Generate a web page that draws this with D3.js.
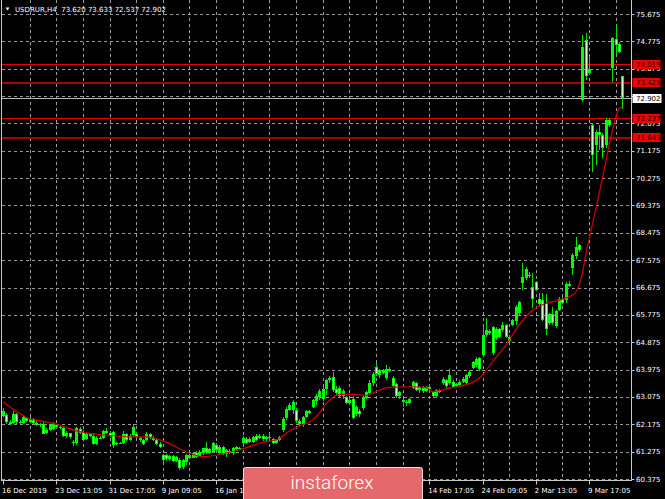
<!DOCTYPE html>
<html lang="en">
<head>
<meta charset="UTF-8">
<title>USDRUR,H4</title>
<style>
    html, body { margin: 0; padding: 0; background: #000; overflow: hidden; }
    svg { display: block; }
    text { font-family: "DejaVu Sans", sans-serif; font-size: 7px; fill: #fff; }
    .grid { stroke: #9a9a9a; stroke-width: 1; stroke-dasharray: 3,3; shape-rendering: crispEdges; }
    .frame { stroke: #c8c8c8; fill: none; shape-rendering: crispEdges; }
</style>
</head>
<body>
<svg width="665" height="499"></svg>
<script src="https://d3js.org/d3.v7.min.js"></script>
<script>
// bars, oldest first (H4)
const opens = [62.45,62.48,62.25,62.22,62.50,62.25,62.22,62.38,62.25,62.34,62.22,62.17,62.20,61.90,61.98,62.02,62.15,62.10,62.04,61.80,
    61.88,61.60,61.56,62.03,61.92,61.68,61.85,61.80,61.52,61.74,61.72,61.95,61.88,61.93,61.55,61.57,61.55,61.85,61.66,61.82,
    61.87,61.71,61.66,61.66,61.86,61.74,61.66,61.53,61.15,61.16,61.03,61.12,60.98,61.00,60.76,60.92,61.15,61.08,61.23,61.14,
    61.24,61.38,61.24,61.25,61.50,61.22,61.44,61.20,61.30,61.22,61.36,61.40,61.55,61.70,61.58,61.58,61.80,61.72,61.79,61.68,
    61.77,61.70,61.57,61.66,61.99,62.37,62.66,62.66,62.64,62.28,62.14,62.42,62.60,62.76,62.95,63.06,63.00,63.32,63.62,63.74,
    63.32,63.38,63.09,63.08,62.87,63.02,62.53,62.62,62.70,63.05,63.20,63.53,64.05,63.80,63.95,63.70,64.00,63.69,63.50,63.10,
    62.98,62.92,62.88,63.36,63.52,63.30,63.38,63.28,63.40,63.24,63.10,63.29,63.52,63.63,63.52,63.58,63.45,63.48,63.58,63.55,
    63.78,64.02,64.14,64.34,64.45,65.12,65.26,65.38,65.00,65.30,65.28,65.44,65.04,65.44,65.56,65.84,66.82,67.00,67.10,66.68,
    66.85,66.30,66.26,66.15,65.50,65.80,65.40,65.95,66.30,66.26,66.80,67.32,67.70,68.07,72.85,74.82,73.72,72.02,71.36,71.80,
    71.68,71.36,72.18,73.89,74.86,74.70,73.620];
const highs = [62.70,62.55,62.30,62.60,62.55,62.30,62.45,62.42,62.40,62.38,62.30,62.22,62.24,62.05,62.20,62.24,62.20,62.14,62.08,61.95,
    61.90,61.65,62.10,62.08,61.98,61.90,61.90,61.88,61.78,61.80,62.00,62.05,61.95,61.95,61.60,61.60,61.95,61.90,61.85,62.18,
    61.92,61.75,61.70,61.92,61.90,61.78,61.72,61.60,61.20,61.20,61.18,61.15,61.12,61.05,61.02,61.20,61.24,61.26,61.30,61.32,
    61.40,61.60,61.40,61.58,61.55,61.50,61.46,61.35,61.36,61.42,61.45,61.44,61.78,61.76,61.75,61.80,61.86,61.84,61.85,61.80,
    61.84,61.72,61.70,61.80,62.42,62.74,62.86,62.96,62.70,62.35,62.45,62.65,62.66,63.00,63.17,63.32,63.40,63.66,63.78,63.90,
    63.45,63.44,63.33,63.12,63.05,63.10,62.80,62.68,63.12,63.28,63.62,63.88,64.18,63.98,64.00,64.12,64.05,63.75,63.55,63.28,
    63.00,62.98,63.05,63.60,63.56,63.44,63.42,63.44,63.45,63.28,63.32,63.34,63.72,63.68,64.01,63.62,63.55,63.62,63.72,63.84,
    63.95,64.26,64.40,64.38,65.39,65.66,65.32,65.42,65.36,65.35,65.55,65.48,65.11,65.65,66.10,66.23,67.47,67.36,67.18,67.15,
    66.90,66.48,66.48,66.45,65.85,66.02,65.95,66.35,66.36,66.87,66.90,67.80,68.35,68.12,74.98,75.04,74.27,72.08,71.86,72.02,
    71.75,72.24,72.24,74.93,75.31,74.75,73.633];
const lows = [62.42,62.20,62.15,62.20,62.20,62.18,62.20,62.24,62.22,62.18,62.12,62.10,61.85,61.85,61.95,61.98,62.05,62.02,61.75,61.72,
    61.70,61.45,61.50,61.85,61.62,61.65,61.75,61.48,61.48,61.68,61.70,61.85,61.75,61.40,61.50,61.52,61.52,61.62,61.62,61.75,
    61.74,61.60,61.50,61.64,61.70,61.62,61.50,61.38,60.95,60.97,60.98,60.94,60.95,60.66,60.72,60.85,61.02,61.05,61.08,61.12,
    61.18,61.20,61.20,61.22,61.30,61.18,61.18,61.10,61.20,61.18,61.30,61.32,61.50,61.52,61.55,61.55,61.62,61.68,61.62,61.63,
    61.70,61.52,61.54,61.62,61.93,62.33,62.60,62.53,62.22,62.12,62.08,62.38,62.50,62.72,62.80,62.97,62.95,63.14,63.55,63.25,
    63.15,63.05,63.00,62.83,62.82,62.34,62.45,62.42,62.65,63.00,63.15,63.45,63.78,63.70,63.82,63.63,63.88,63.38,63.05,63.02,
    62.75,62.78,62.84,63.32,63.28,63.22,63.22,63.25,63.28,63.04,63.05,63.22,63.48,63.38,63.48,63.38,63.40,63.44,63.54,63.50,
    63.70,63.98,64.07,63.92,64.40,65.06,65.12,64.45,64.95,65.02,65.22,65.02,64.84,65.40,65.44,65.77,66.59,66.92,67.00,66.00,
    66.55,66.08,65.58,65.11,65.45,65.45,65.35,65.90,66.12,66.15,66.68,67.09,67.63,67.86,72.79,73.50,73.67,70.49,70.71,71.20,
    70.93,71.25,71.96,73.45,74.33,74.40,72.537];
const closes = [62.62,62.25,62.20,62.52,62.25,62.22,62.40,62.28,62.36,62.22,62.15,62.20,61.87,62.00,62.17,62.19,62.10,62.05,61.78,61.90,
    61.75,61.55,62.05,61.90,61.65,61.86,61.78,61.52,61.74,61.70,61.95,61.88,61.78,61.50,61.57,61.54,61.86,61.66,61.80,62.10,
    61.77,61.66,61.54,61.87,61.72,61.66,61.53,61.43,61.00,61.02,61.12,60.98,61.10,60.73,60.99,61.16,61.06,61.24,61.11,61.27,
    61.38,61.25,61.37,61.55,61.34,61.44,61.20,61.32,61.24,61.38,61.42,61.37,61.72,61.56,61.70,61.76,61.66,61.80,61.68,61.76,
    61.73,61.56,61.66,61.77,62.36,62.69,62.80,62.90,62.27,62.17,62.40,62.60,62.54,62.96,63.10,63.28,63.34,63.62,63.70,63.31,
    63.20,63.09,63.28,62.87,62.98,62.38,62.74,62.50,63.06,63.24,63.55,63.84,63.82,63.95,63.87,64.00,63.92,63.42,63.10,63.23,
    62.92,62.88,63.02,63.56,63.30,63.40,63.26,63.40,63.32,63.09,63.29,63.25,63.68,63.42,63.80,63.41,63.50,63.57,63.68,63.79,
    63.88,64.22,64.32,63.98,65.10,65.27,65.18,64.52,65.32,65.06,65.44,65.06,64.90,65.60,66.05,66.19,67.02,67.30,67.04,66.30,
    66.60,66.12,65.62,65.30,65.80,65.52,65.90,66.30,66.18,66.80,66.74,67.74,68.00,67.92,74.60,73.62,73.88,71.04,71.80,71.70,
    71.26,72.18,72.02,74.87,74.66,74.44,72.902];

// moving average, read at selected bars
const maIdx = [0,5,8,11,16,22,29,39,43,48,55,60,67,73,77,83,85,89,93,95,97,99,101,105,109,112,116,122,127,129,131,135,139,143,
    147,151,155,159,163,167,171,172,174,175,177,179,181,183,185,186];
const maVal = [62.92,62.53,62.35,62.29,62.18,61.96,61.84,61.76,61.76,61.63,61.27,61.11,61.23,61.40,61.55,61.71,61.88,62.12,62.32,62.55,
    62.85,63.05,63.16,63.16,63.12,63.25,63.39,63.41,63.39,63.25,63.28,63.39,63.47,63.69,64.23,64.78,65.44,65.93,66.15,66.26,
    66.43,66.52,67.15,67.75,68.75,69.75,70.80,71.85,72.55,72.62];

// 72.975 sits under the bid box in the picture, so it is not listed
const priceTicks = [60.375,61.275,62.175,63.075,63.975,64.875,65.775,66.675,67.575,68.475,69.375,70.275,71.175,72.075,
    73.875,74.775,75.675];
const gridPrices = [60.375,61.275,62.175,63.075,63.975,64.875,65.775,66.675,67.575,68.475,69.375,70.275,71.175,72.075,72.975,
    73.875,74.775,75.675];
// labels under the watermark are hidden in the picture, only their ticks show
const timeIdx = [0,16,32,48,64,80,96,112,128,144,160,176];
const timeLabels = ["16 Dec 2019","23 Dec 13:05","31 Dec 17:05","9 Jan 09:05","16 Jan 13:05","","",
    "","14 Feb 17:05","24 Feb 09:05","2 Mar 13:05","9 Mar 17:05"];
const levels = [74.019, 73.425, 72.237, 71.643];

let svg = d3.select("svg"),
    width = +svg.attr("width"),
    height = +svg.attr("height"),
    left = 1.5, right = 631.5, bottom = 480.5;

let n = closes.length,
    fmt = d3.format(".3f");

let x = d3.scaleLinear().domain([0, n - 1]).range([3, 3 + 3.33 * (n - 1)]);
let y = d3.scaleLinear().domain([60.375, 75.675]).range([479, 14]);

svg.append("rect").attr("width", width).attr("height", height).attr("fill", "#000");

// grid
let gridIdx = d3.range(8, n, 8);
svg.append("g").selectAll("line").data(gridIdx).join("line")
    .attr("class", "grid")
    .attr("x1", d => Math.round(x(d)) + 0.5).attr("x2", d => Math.round(x(d)) + 0.5)
    .attr("y1", 0).attr("y2", bottom);

svg.append("g").selectAll("line").data(gridPrices).join("line")
    .attr("class", "grid")
    .attr("x1", left).attr("x2", right)
    .attr("y1", d => Math.round(y(d)) + 0.5).attr("y2", d => Math.round(y(d)) + 0.5);

// level lines
let lv = svg.append("g");
lv.selectAll("line").data(levels).join("line")
    .attr("x1", left).attr("x2", right)
    .attr("y1", d => Math.round(y(d)) + 0.5).attr("y2", d => Math.round(y(d)) + 0.5)
    .attr("stroke", (d, i) => i % 2 ? "#a80000" : "#e00000")
    .attr("stroke-width", (d, i) => i % 2 ? 2 : 1)
    .attr("shape-rendering", "crispEdges");

// bid line
let bid = closes[n - 1];
svg.append("line")
    .attr("x1", left).attr("x2", right)
    .attr("y1", Math.round(y(bid)) + 0.5).attr("y2", Math.round(y(bid)) + 0.5)
    .attr("stroke", "#b8b8b8").attr("shape-rendering", "crispEdges");

// candles
let bars = d3.range(n);
let cg = svg.append("g").attr("shape-rendering", "crispEdges");
cg.selectAll(".wick").data(bars).join("rect")
    .attr("class", "wick")
    .attr("x", i => Math.round(x(i)))
    .attr("width", 1)
    .attr("y", i => y(highs[i]))
    .attr("height", i => Math.max(1, y(lows[i]) - y(highs[i])))
    .attr("fill", "#00e000");

cg.selectAll(".body").data(bars).join("rect")
    .attr("class", "body")
    .attr("x", i => Math.round(x(i)) - 1)
    .attr("width", 3)
    .attr("y", i => y(Math.max(opens[i], closes[i])))
    .attr("height", i => Math.max(1, Math.abs(y(opens[i]) - y(closes[i]))))
    .attr("fill", "#00ff00");

cg.selectAll(".core").data(bars.filter(i => closes[i] < opens[i] && y(closes[i]) - y(opens[i]) > 3)).join("rect")
    .attr("class", "core")
    .attr("x", i => Math.round(x(i)))
    .attr("width", 1)
    .attr("y", i => y(opens[i]) + 1)
    .attr("height", i => y(closes[i]) - y(opens[i]) - 2)
    .attr("fill", "#c8ffc8");

// moving average
let ma = d3.line()
    .x((d, i) => x(maIdx[i]))
    .y(d => y(d))
    .curve(d3.curveMonotoneX);
svg.append("path").datum(maVal)
    .attr("d", ma)
    .attr("fill", "none")
    .attr("stroke", "#d40000")
    .attr("stroke-width", 1.2);

// frame
svg.append("path").attr("class", "frame")
    .attr("d", `M${left},-1V${bottom}H${right}V-1`);

// price axis
let pa = svg.append("g");
pa.selectAll("line").data(gridPrices).join("line")
    .attr("x1", right).attr("x2", right + 3)
    .attr("y1", d => Math.round(y(d)) + 0.5).attr("y2", d => Math.round(y(d)) + 0.5)
    .attr("stroke", "#c8c8c8");
pa.selectAll("text").data(priceTicks).join("text")
    .attr("x", 636).attr("y", d => y(d)).attr("dy", "0.36em")
    .text(d => fmt(d));

// level labels
let ll = svg.append("g").selectAll("g").data(levels).join("g")
    .attr("transform", d => `translate(632.5,${Math.round(y(d)) - 4})`);
ll.append("rect").attr("width", 28).attr("height", 9).attr("fill", "#f00000");
ll.append("text").attr("x", 3.5).attr("y", 7).style("fill", "#200000").text(d => fmt(d));

let bl = svg.append("g").attr("transform", `translate(632.5,${Math.round(y(bid)) - 4})`);
bl.append("rect").attr("width", 29).attr("height", 9).attr("fill", "#fff");
bl.append("text").attr("x", 3.5).attr("y", 7).style("fill", "#000").text(fmt(bid));

// time axis
let ta = svg.append("g");
ta.selectAll("line").data(timeIdx).join("line")
    .attr("x1", d => Math.round(x(d)) + 0.5).attr("x2", d => Math.round(x(d)) + 0.5)
    .attr("y1", bottom).attr("y2", bottom + 4)
    .attr("stroke", "#c8c8c8");
ta.selectAll("text").data(timeIdx.filter((d, i) => timeLabels[i])).join("text")
    .attr("x", d => x(d) - 1).attr("y", 493)
    .text(d => timeLabels[timeIdx.indexOf(d)]);

// header
svg.append("path").attr("d", "M5.5,7.5h4l-2,3z").attr("fill", "#fff");
svg.append("text").attr("x", 15).attr("y", 12)
    .text(`USDRUR,H4  ${fmt(opens[n - 1])} ${fmt(highs[n - 1])} ${fmt(lows[n - 1])} ${fmt(closes[n - 1])}`)
    .attr("xml:space", "preserve").style("white-space", "pre");

// watermark
svg.append("rect")
    .attr("x", 243.5).attr("y", 467.5).attr("width", 179).attr("height", 40).attr("rx", 2)
    .attr("fill", "#e5696c").attr("stroke", "#f6d6d6");
svg.append("text")
    .attr("x", 332).attr("y", 489).attr("text-anchor", "middle")
    .style("font-family", "Roboto, 'Open Sans', sans-serif")
    .style("font-weight", 300)
    .style("font-size", "19px")
    .text("instaforex");
</script>
</body>
</html>
